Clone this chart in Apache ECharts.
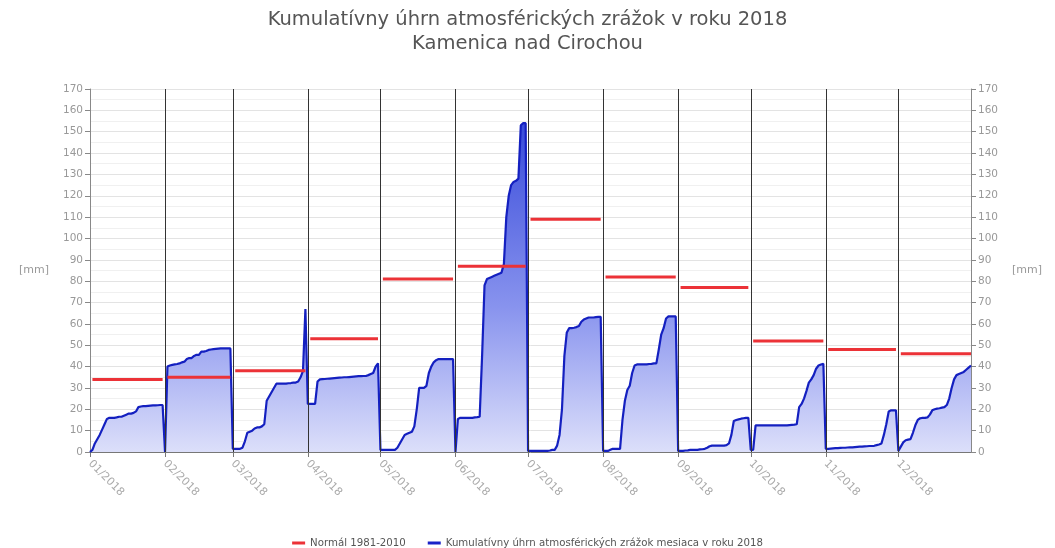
<!DOCTYPE html>
<html>
<head>
<meta charset="utf-8">
<script src="https://cdn.jsdelivr.net/npm/echarts@6/dist/echarts.min.js"></script>
<style>
    html, body { margin:0; padding:0; background:#fff; }
    #chart { width:1055px; height:548px; }
</style>
</head>
<body>
<div id="chart"></div>
<script>
/* denné kumulatívne úhrny (mm), po mesiacoch */
const jan = [0,1,4,6,8,10.5,13,15.5,16,16,16,16.2,16.5,16.5,17,17.5,18,18,18.3,19,21,21.3,21.5,21.5,21.6,21.7,21.8,21.8,21.9,22,22];
const feb = [0,40,40.5,40.8,41,41.2,41.5,42,42.3,43.5,44,44,45,45.5,45.5,47,47,47.3,47.8,48,48.2,48.3,48.4,48.5,48.5,48.5,48.5,48.5];
const mar = [1.5,1.5,1.5,1.5,2,5,9,9.5,10,11,11.5,11.5,12,13,24,26,28,30,32,32,32,32,32,32.2,32.3,32.5,32.5,33,35,38,67];
const apr = [22.5,22.5,22.5,22.5,33,34,34.1,34.2,34.3,34.4,34.5,34.6,34.7,34.8,34.9,35,35,35.1,35.2,35.3,35.4,35.5,35.5,35.6,35.6,36,36.5,37,40,41.5];
const may = [1,1,1,1,1,1,1,2,4,6,8,8.5,9,9.5,12,20,30,30,30,31,37,40,42,43,43.5,43.5,43.5,43.5,43.5,43.5,43.5];
const jun = [0,15.5,16,16,16,16,16,16,16.2,16.3,16.5,45,78,81,81.5,82,82.5,83,83.5,84,88,110,120,125,126.5,127,128,153,154,154];
const jul = [0.5,0.5,0.5,0.5,0.5,0.5,0.5,0.5,0.5,0.7,1,1,3,8,20,45,56,58,58,58.2,58.5,59,61,62,62.5,63,63,63,63.2,63.3,63.3];
const aug = [0.5,0.5,0.5,1,1.5,1.5,1.5,1.5,15,24,29,31,37,40.5,41,41,41,41,41,41.2,41.3,41.5,41.5,48,55,58,62.5,63.5,63.5,63.5,63.5];
const sep = [0.5,0.5,0.5,0.7,0.8,1,1,1,1,1.2,1.3,1.5,2,2.7,3,3,3,3,3,3,3.2,4,8,14.5,15,15.3,15.6,15.8,16,16];
const oct = [1,1,12.5,12.5,12.5,12.5,12.5,12.5,12.5,12.5,12.5,12.5,12.5,12.5,12.5,12.5,12.6,12.7,12.8,13,21,22.5,25,28.5,32.5,34,36,39,40.5,41,41.3];
const nov = [1.5,1.5,1.6,1.7,1.8,1.8,1.9,2,2,2.1,2.2,2.2,2.3,2.4,2.5,2.5,2.6,2.7,2.8,2.8,2.9,3.2,3.5,4,8,13,19,19.5,19.5,19.5];
const dec = [0.5,2.5,4.5,5.5,5.8,6,9,12.5,15,15.8,16,16,16.2,17.5,19.5,20,20.3,20.5,20.8,21,22,25,30,34,36,36.5,37,37.5,38.5,39.5,40.5];

/* normál 1981-2010 (mm) */
const normals = [34, 35, 38, 53, 81, 87, 109, 82, 77, 52, 48, 46];

/* popisky mesiacov */
const monthLabels = ['01/2018','02/2018','03/2018','04/2018','05/2018','06/2018',
                     '07/2018','08/2018','09/2018','10/2018','11/2018','12/2018'];

const months = [jan, feb, mar, apr, may, jun, jul, aug, sep, oct, nov, dec];

/* začiatky mesiacov ako poradie dňa v roku (od 0) */
const monthStarts = [];
let dayCount = 0;
months.forEach(days => {
    monthStarts.push(dayCount);
    dayCount += days.length;
});

/* séria zrážok */
const rainData = [];
months.forEach((days, i) => {
    days.forEach((v, d) => {
        rainData.push([monthStarts[i] + d, v]);
    });
});

/* séria normálu - úsečky po mesiacoch */
const normalData = [];
months.forEach((days, i) => {
    normalData.push([monthStarts[i] + 1, normals[i]]);
    normalData.push([monthStarts[i] + days.length - 1, normals[i]]);
    normalData.push([monthStarts[i] + days.length - 0.5, '-']);
});

const chart = echarts.init(document.getElementById('chart'));

const font = '"DejaVu Sans", sans-serif';

const yAxisBase = {
    type: 'value',
    min: 0,
    max: 170,
    interval: 10,
    name: '[mm]',
    nameLocation: 'middle',
    nameRotate: 0,
    nameGap: 41,
    nameTextStyle: { color: '#999', fontSize: 11, fontFamily: font },
    axisLine: { show: true, lineStyle: { color: '#888' } },
    axisTick: { show: true, length: 5, lineStyle: { color: '#888' } },
    axisLabel: { color: '#999', fontSize: 10.5, fontFamily: font, margin: 7 }
};

chart.setOption({
    animation: false,
    textStyle: { fontFamily: font },
    title: {
        text: 'Kumulatívny úhrn atmosférických zrážok v roku 2018\nKamenica nad Cirochou',
        left: 'center',
        top: 3,
        textStyle: {
            color: '#555',
            fontSize: 19.5,
            fontWeight: 'normal',
            lineHeight: 24,
            fontFamily: font
        }
    },
    legend: {
        top: 533,
        left: 'center',
        icon: 'rect',
        itemWidth: 13,
        itemHeight: 3,
        itemGap: 22,
        textStyle: { color: '#555', fontSize: 10.2, fontFamily: font },
        data: ['Normál 1981-2010', 'Kumulatívny úhrn atmosférických zrážok mesiaca v roku 2018']
    },
    grid: {
        left: 90,
        right: 84,
        top: 89,
        bottom: 96
    },
    xAxis: {
        type: 'value',
        min: 0,
        max: dayCount - 1,
        axisLine: { show: true, lineStyle: { color: '#777' } },
        axisTick: { show: true, customValues: monthStarts, length: 5, lineStyle: { color: '#777' } },
        axisLabel: {
            customValues: monthStarts,
            rotate: -45,
            color: '#aaa',
            fontSize: 11,
            fontFamily: font,
            margin: 10,
            formatter: function(v){
                return monthLabels[monthStarts.indexOf(v)];
            }
        },
        splitLine: { show: false }
    },
    yAxis: [
        Object.assign({}, yAxisBase, {
            position: 'left',
            splitLine: { show: true, lineStyle: { color: '#e3e3e3' } },
            minorTick: { show: false, splitNumber: 2 },
            minorSplitLine: { show: true, lineStyle: { color: '#f0f0f0' } }
        }),
        Object.assign({}, yAxisBase, {
            position: 'right',
            splitLine: { show: false }
        })
    ],
    series: [
        {
            name: 'Kumulatívny úhrn atmosférických zrážok mesiaca v roku 2018',
            type: 'line',
            data: rainData,
            showSymbol: false,
            symbol: 'none',
            z: 2,
            itemStyle: { color: '#1a22c8' },
            lineStyle: { color: '#1420c0', width: 2.2 },
            areaStyle: {
                opacity: 1,
                color: {
                    type: 'linear',
                    x: 0, y: 89, x2: 0, y2: 452,
                    global: true,
                    colorStops: [
                        { offset: 0, color: '#2a3ed6' },
                        { offset: 0.6, color: '#8893ee' },
                        { offset: 1, color: '#dcdffa' }
                    ]
                }
            },
            markLine: {
                silent: true,
                symbol: ['none', 'none'],
                label: { show: false },
                lineStyle: { color: '#333', width: 1, type: 'solid' },
                data: monthStarts.slice(1).map(t => ({ xAxis: t }))
            }
        },
        {
            name: 'Normál 1981-2010',
            type: 'line',
            data: normalData,
            showSymbol: false,
            symbol: 'none',
            connectNulls: false,
            z: 4,
            itemStyle: { color: '#ec3237' },
            lineStyle: { color: '#ec3237', width: 3 }
        }
    ]
});
</script>
</body>
</html>
